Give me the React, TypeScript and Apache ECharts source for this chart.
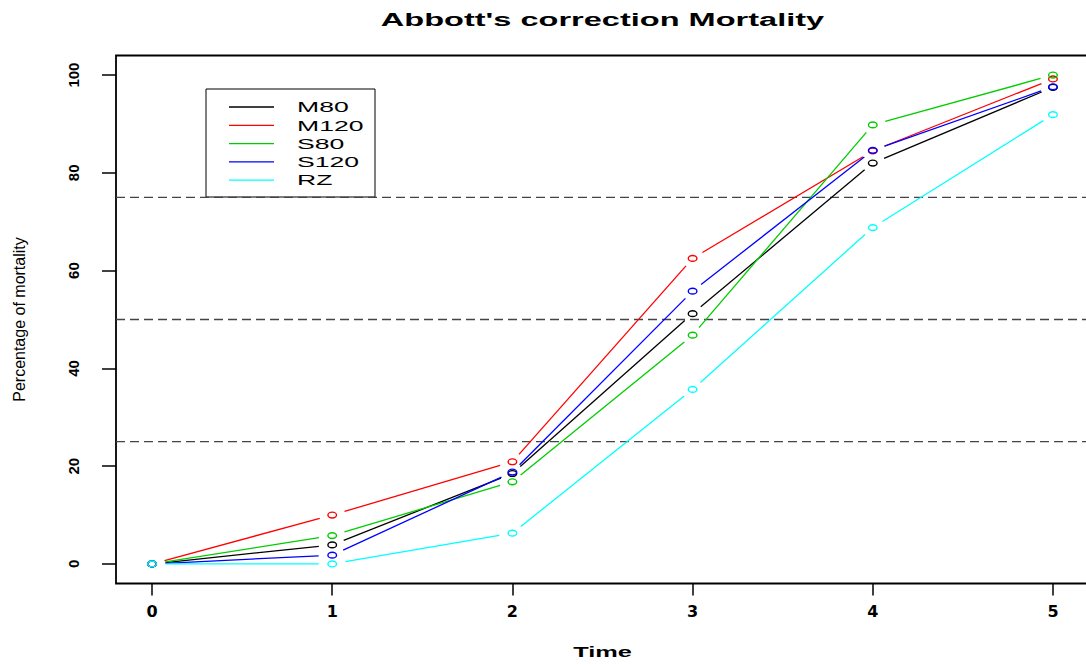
import React, { useEffect, useRef } from "react";
import * as echarts from "echarts";

// Observation times and the cumulative corrected mortality (%) of each group
const timePoints = [0, 1, 2, 3, 4, 5];
const seriesNames = ["M80", "M120", "S80", "S120", "RZ"];
const seriesColors = ["#000000", "#FF0000", "#00CD00", "#0000FF", "#00FFFF"];
const m80 = [0, 3.9, 18.5, 51.2, 82.0, 97.5];
const m120 = [0, 10.0, 20.9, 62.5, 84.5, 99.2];
const s80 = [0, 5.8, 16.8, 46.8, 89.8, 100];
const s120 = [0, 1.8, 18.8, 55.8, 84.6, 97.6];
const rz = [0, 0, 6.3, 35.7, 68.8, 91.9];
const seriesValues = [m80, m120, s80, s120, rz];

// Horizontal guide levels (25 / 50 / 75 %)
const guideLevels = [25, 50, 75];

// Tick positions and labels
const xTicks = [0, 1, 2, 3, 4, 5];
const yTicks = [0, 20, 40, 60, 80, 100];

const titleText = "Abbott's correction Mortality";
const xTitle = "Time";
const yTitle = "Percentage of mortality";

// Axis extents (4% padding on each side)
const X_MIN = -0.2;
const X_MAX = 5.2;
const Y_MIN = -4;
const Y_MAX = 104;

// The drawing is wider than tall: text and markers are stretched horizontally
const TEXT_STRETCH = 1.75;
const GEOM_STRETCH = 1.6;
const POINT_GAP = 8.5;

function pointLineRenderer(color: string) {
  return (_params: any, api: any) => {
    const x0 = api.value(0);
    const y0 = api.value(1);
    const x1 = api.value(2);
    const y1 = api.value(3);
    const p0 = api.coord([x0, y0]);
    const children: any[] = [];
    if (isFinite(x1) && isFinite(y1) && x1 !== x0) {
      const p1 = api.coord([x1, y1]);
      const dx = p1[0] - p0[0];
      const dy = p1[1] - p0[1];
      const len = Math.hypot(dx / GEOM_STRETCH, dy);
      if (len > 2 * POINT_GAP) {
        const t = POINT_GAP / len;
        children.push({
          type: "line",
          shape: {
            x1: p0[0] + dx * t,
            y1: p0[1] + dy * t,
            x2: p1[0] - dx * t,
            y2: p1[1] - dy * t,
          },
          style: { stroke: color, lineWidth: 1.3 },
        });
      }
    }
    children.push({
      type: "ellipse",
      shape: { cx: p0[0], cy: p0[1], rx: 4.3, ry: 2.9 },
      style: { fill: "none", stroke: color, lineWidth: 1.4 },
    });
    return { type: "group", children };
  };
}

function guideRenderer(_params: any, api: any) {
  const v = api.value(1);
  const a = api.coord([X_MIN, v]);
  const b = api.coord([X_MAX, v]);
  return {
    type: "line",
    shape: { x1: a[0], y1: a[1], x2: b[0], y2: b[1] },
    style: { stroke: "#444444", lineWidth: 1.3, lineDash: [9, 5] },
  };
}

function stretchedText(text: string, x: number, y: number, size: number, bold: boolean, align: string) {
  return {
    type: "text",
    x,
    y,
    z: 20,
    scaleX: TEXT_STRETCH,
    style: {
      text,
      fontSize: size,
      fontWeight: bold ? "bold" : "normal",
      fontFamily: "Liberation Sans",
      fill: "#000000",
      align,
      textAlign: align,
      verticalAlign: "middle",
      textVerticalAlign: "middle",
    },
  };
}

function buildLegend() {
  const boxX = 206;
  const boxY = 89;
  const boxW = 169;
  const boxH = 108;
  const rowTop = 107;
  const rowStep = 18.3;
  const children: any[] = [
    {
      type: "rect",
      shape: { x: boxX, y: boxY, width: boxW, height: boxH },
      style: { fill: "#ffffff", stroke: "#000000", lineWidth: 1 },
    },
  ];
  seriesNames.forEach((name, k) => {
    const y = rowTop + k * rowStep;
    children.push({
      type: "line",
      shape: { x1: 229, y1: y, x2: 274, y2: y },
      style: { stroke: seriesColors[k], lineWidth: 1.3 },
    });
    children.push(stretchedText(name, 297, y, 15.2, false, "left"));
  });
  return { type: "group", z: 20, children };
}

export default function App() {
  const ref = useRef<HTMLDivElement | null>(null);

  useEffect(() => {
    if (!ref.current) return;
    const chart = echarts.init(ref.current, undefined, { renderer: "svg" });

    const series: any[] = [
      {
        type: "custom",
        name: "guides",
        silent: true,
        encode: { x: 0, y: 1 },
        data: guideLevels.map((v) => [X_MIN, v]),
        renderItem: guideRenderer,
        z: 1,
      },
    ];
    seriesValues.forEach((values, k) => {
      series.push({
        type: "custom",
        name: seriesNames[k],
        silent: true,
        encode: { x: 0, y: 1 },
        data: timePoints.map((t, i) => {
          const next = i < timePoints.length - 1 ? i + 1 : i;
          return [t, values[i], timePoints[next], values[next]];
        }),
        renderItem: pointLineRenderer(seriesColors[k]),
        z: 2 + k,
      });
    });

    chart.setOption({
      animation: false,
      backgroundColor: "#ffffff",
      grid: {
        show: true,
        left: 116,
        top: 55.5,
        width: 973,
        height: 528,
        borderColor: "#000000",
        borderWidth: 1.8,
        backgroundColor: "transparent",
        containLabel: false,
        outerBoundsMode: "none",
      },
      xAxis: {
        type: "value",
        min: X_MIN,
        max: X_MAX,
        axisLine: { show: false, onZero: false },
        splitLine: { show: false },
        axisTick: {
          show: true,
          length: 12,
          customValues: xTicks,
          lineStyle: { color: "#000000", width: 1.5 },
        },
        axisLabel: {
          customValues: xTicks,
          margin: 20,
          fontFamily: "DejaVu Sans",
          fontWeight: "bold",
          fontSize: 16,
          color: "#000000",
          formatter: (v: number) => String(v),
        },
      },
      yAxis: {
        type: "value",
        min: Y_MIN,
        max: Y_MAX,
        name: yTitle,
        nameLocation: "middle",
        nameGap: 89,
        nameRotate: 90,
        nameMoveOverlap: false,
        nameTextStyle: {
          fontFamily: "Liberation Sans",
          fontSize: 16,
          color: "#000000",
        },
        axisLine: { show: false, onZero: false },
        splitLine: { show: false },
        axisTick: {
          show: true,
          length: 14,
          customValues: yTicks,
          lineStyle: { color: "#000000", width: 1.5 },
        },
        axisLabel: {
          customValues: yTicks,
          rotate: 90,
          margin: 35,
          fontFamily: "Liberation Sans",
          fontWeight: "bold",
          fontSize: 15,
          color: "#000000",
          formatter: (v: number) => String(v),
        },
      },
      graphic: [
        stretchedText(titleText, 602.5, 20, 18.6, true, "center"),
        stretchedText(xTitle, 602.5, 652, 14.5, true, "center"),
        buildLegend(),
      ],
      series,
    });

    return () => {
      chart.dispose();
    };
  }, []);

  return (
    <div
      ref={ref}
      style={{
        position: "fixed",
        left: 0,
        top: 0,
        width: 1086,
        height: 665,
        background: "#ffffff",
      }}
    />
  );
}
